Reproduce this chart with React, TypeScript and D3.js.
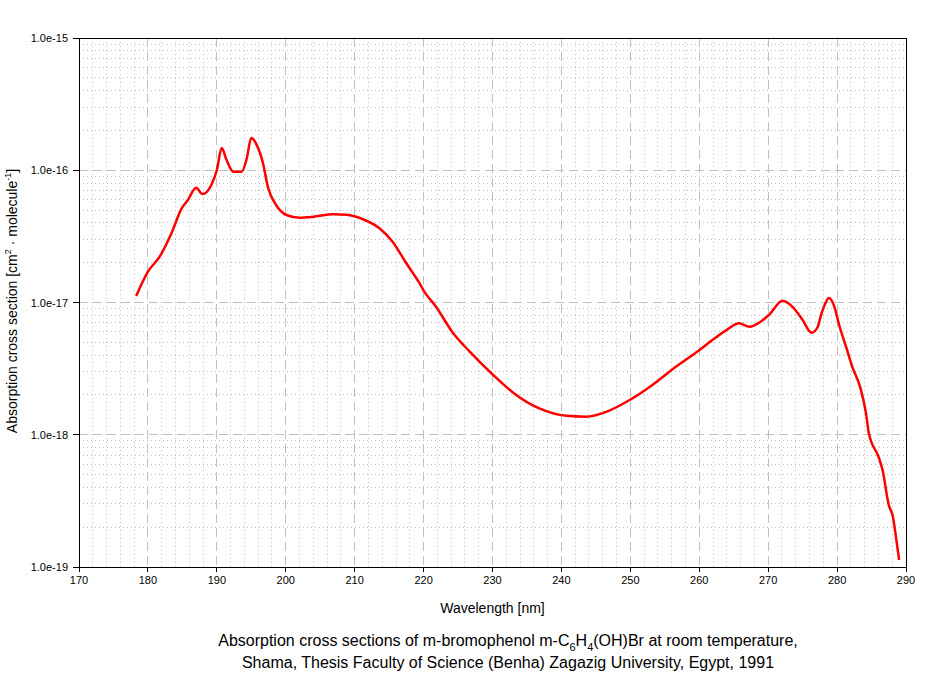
import React from "react";
import * as d3 from "d3";

const wavelengths = [
  178.3, 180.0, 181.7, 183.4, 184.9, 185.8, 187.0, 187.9, 189.2, 190.0, 190.7, 191.4, 192.4, 193.6, 194.3, 195.0, 195.8, 196.7, 197.4, 198.6,
  200.1, 202.0, 204.0, 206.9, 208.8, 211.2, 213.6, 215.5, 217.5, 219.4, 220.1, 221.8, 224.3, 226.7, 230.1, 233.0, 236.8, 240.7, 243.6,
  246.5, 249.9, 253.2, 256.6, 259.9, 261.9, 264.1, 265.8, 267.3, 268.9, 270.1, 272.1, 273.5, 275.0, 276.3, 277.2, 277.6, 278.3,
  278.8, 279.6, 280.3, 281.3, 282.2, 283.4, 284.2, 284.6, 286.1, 286.6, 287.5, 288.1, 288.5, 289.0,
];
const crossSections = [
  1.12e-17, 1.71e-17, 2.22e-17, 3.33e-17, 5.15e-17, 5.96e-17, 7.38e-17, 6.6e-17, 7.74e-17, 1.0e-16, 1.47e-16, 1.2e-16, 9.75e-17, 9.75e-17, 1.2e-16, 1.75e-16, 1.55e-16, 1.13e-16, 7.5e-17, 5.46e-17,
  4.59e-17, 4.38e-17, 4.45e-17, 4.65e-17, 4.6e-17, 4.26e-17, 3.64e-17, 2.88e-17, 1.98e-17, 1.4e-17, 1.21e-17, 9.3e-18, 5.85e-18, 4.25e-18, 2.83e-18, 2.08e-18, 1.58e-18, 1.39e-18, 1.37e-18,
  1.49e-18, 1.83e-18, 2.38e-18, 3.27e-18, 4.32e-18, 5.2e-18, 6.27e-18, 6.96e-18, 6.56e-18, 7.16e-18, 8.04e-18, 1.03e-17, 9.3e-18, 7.38e-18, 5.9e-18, 6.56e-18, 7.8e-18, 9.86e-18,
  1.08e-17, 9.3e-18, 6.76e-18, 4.63e-18, 3.27e-18, 2.24e-18, 1.45e-18, 1.03e-18, 6.64e-19, 5.41e-19, 2.94e-19, 2.4e-19, 1.75e-19, 1.13e-19,
];
const xTicks = [170, 180, 190, 200, 210, 220, 230, 240, 250, 260, 270, 280, 290];
const yTicks = [1e-19, 1e-18, 1e-17, 1e-16, 1e-15];
const yTickLabels = ["1.0e-19", "1.0e-18", "1.0e-17", "1.0e-16", "1.0e-15"];

export default function App() {
  const W = 944, H = 673;
  const left = 79, right = 906, top = 38, bottom = 567;
  const x = d3.scaleLinear().domain([170, 290]).range([left, right]);
  const y = d3.scaleLog().domain([1e-19, 1e-15]).range([bottom, top]);

  const minorX = d3.range(172, 290, 2).filter((v) => v % 10 !== 0);
  const minorY: number[] = [];
  for (let e = -19; e < -15; e++) for (let m = 2; m <= 9; m++) minorY.push(m * Math.pow(10, e));

  const pts = wavelengths.map((w, i) => [w, crossSections[i]] as [number, number]);
  const line = d3.line<[number, number]>().x((d) => x(d[0])).y((d) => y(d[1])).curve(d3.curveMonotoneX);

  const font = "Arial, 'Liberation Sans', sans-serif";
  const grid = "#c0c0c0";

  return (
    <svg width={W} height={H} style={{ position: "absolute", left: 0, top: 0, background: "#fff" }} fontFamily={font}>
      <rect x={0} y={0} width={W} height={H} fill="#fff" />
      {minorX.map((v) => (
        <line key={"mx" + v} x1={x(v)} x2={x(v)} y1={top} y2={bottom} stroke={grid} strokeWidth={1} strokeDasharray="1,3" shapeRendering="crispEdges" />
      ))}
      {minorY.map((v, i) => (
        <line key={"my" + i} x1={left} x2={right} y1={y(v)} y2={y(v)} stroke={grid} strokeWidth={1} strokeDasharray="1,3" shapeRendering="crispEdges" />
      ))}
      {xTicks.slice(1, -1).map((v) => (
        <line key={"gx" + v} x1={x(v)} x2={x(v)} y1={top} y2={bottom} stroke={grid} strokeWidth={1} strokeDasharray="9,5" shapeRendering="crispEdges" />
      ))}
      {yTicks.slice(1, -1).map((v, i) => (
        <line key={"gy" + i} x1={left} x2={right} y1={y(v)} y2={y(v)} stroke={grid} strokeWidth={1} strokeDasharray="9,5" shapeRendering="crispEdges" />
      ))}
      <path d={line(pts) || ""} fill="none" stroke="#ff0000" strokeWidth={2.5} strokeLinejoin="round" />
      <rect x={left} y={top} width={right - left} height={bottom - top} fill="none" stroke="#000" strokeWidth={1} shapeRendering="crispEdges" />
      {xTicks.map((v) => (
        <g key={"xt" + v}>
          <line x1={x(v)} x2={x(v)} y1={bottom} y2={bottom + 5} stroke="#000" shapeRendering="crispEdges" />
          <text x={x(v)} y={bottom + 17} fontSize={11} textAnchor="middle" fill="#000">{v}</text>
        </g>
      ))}
      {yTicks.map((v, i) => (
        <g key={"yt" + i}>
          <line x1={left - 6} x2={left} y1={y(v)} y2={y(v)} stroke="#000" shapeRendering="crispEdges" />
          <text x={left - 11} y={y(v) + 4} fontSize={11} textAnchor="end" fill="#000">{yTickLabels[i]}</text>
        </g>
      ))}
      <text x={(left + right) / 2} y={613} fontSize={14} textAnchor="middle" fill="#000">Wavelength [nm]</text>
      <text transform={`translate(17,301) rotate(-90)`} fontSize={14} textAnchor="middle" fill="#000">
        Absorption cross section [cm<tspan dy={-6} fontSize={9}>2</tspan><tspan dy={6}> · molecule</tspan><tspan dy={-6} fontSize={9}>-1</tspan><tspan dy={6}>]</tspan>
      </text>
      <text x={508} y={646} fontSize={16} textAnchor="middle" fill="#000">
        Absorption cross sections of m-bromophenol m-C<tspan dy={5} fontSize={11}>6</tspan><tspan dy={-5}>H</tspan><tspan dy={5} fontSize={11}>4</tspan><tspan dy={-5}>(OH)Br at room temperature,</tspan>
      </text>
      <text x={508} y={668} fontSize={16} textAnchor="middle" fill="#000">
        Shama, Thesis Faculty of Science (Benha) Zagazig University, Egypt, 1991
      </text>
    </svg>
  );
}
